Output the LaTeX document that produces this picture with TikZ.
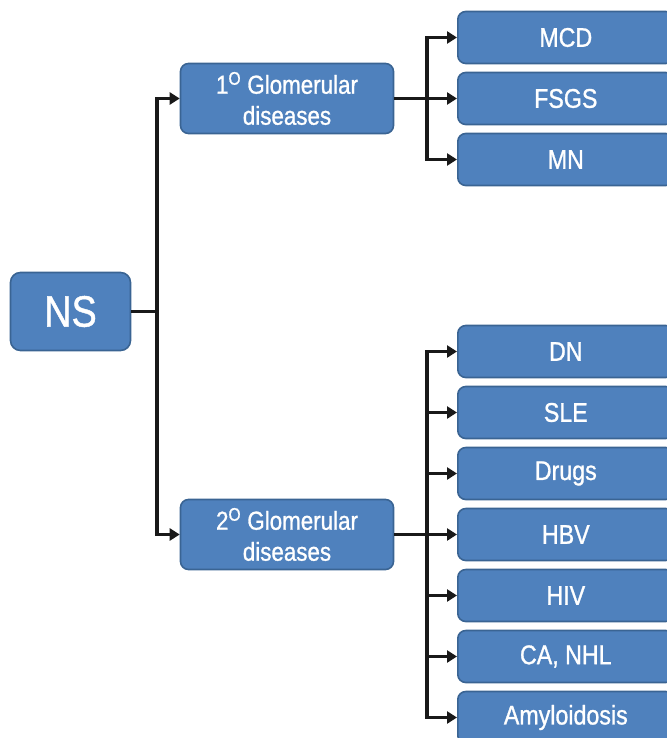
\documentclass[tikz,border=0pt]{standalone}
\usepackage{fontspec}
\setmainfont{Liberation Sans}[FakeStretch=0.86,FakeBold=1]
\usetikzlibrary{arrows.meta,positioning}
\definecolor{boxfill}{HTML}{4F81BD}
\definecolor{boxline}{HTML}{3A6493}

\begin{document}
\begin{tikzpicture}[
   x=1pt,y=-1pt,
   node distance=7.4pt,
   box/.style={draw=boxline,line width=1.6pt,fill=boxfill,text=white,
               rounded corners=8pt,align=center,inner sep=0pt},
   root/.style={box,minimum width=120pt,minimum height=78pt,rounded corners=10pt,
               font=\fontsize{44}{48}\selectfont},
   group/.style={box,minimum width=213pt,minimum height=70pt,
               font=\fontsize{26}{31}\selectfont},
   leaf/.style={box,minimum width=216pt,minimum height=52pt,
               font=\fontsize{27}{30}\selectfont},
   conn/.style={line width=3.8pt,black!90},
   arr/.style={conn,-{Triangle[length=10pt,width=12pt]}}
 ]
  \useasboundingbox (0,0) rectangle (666,738);
  \node[root] (ns) at (70.5,311.5) {NS};
  \node[group] (g1) at (287,98.5) {1\textsuperscript{O} Glomerular\\diseases};
  \node[group] (g2) at (287,534.5) {2\textsuperscript{O} Glomerular\\diseases};
  % primary causes
  \node[leaf,anchor=west] (mcd) at (457,37.5) {MCD};
  \node[leaf,below=of mcd] (fsgs) {FSGS};
  \node[leaf,below=of fsgs] (mn) {MN};
  % secondary causes
  \node[leaf,anchor=west] (dn) at (457,351.5) {DN};
  \node[leaf,below=of dn] (sle) {SLE};
  \node[leaf,below=of sle] (drugs) {Drugs};
  \node[leaf,below=of drugs] (hbv) {HBV};
  \node[leaf,below=of hbv] (hiv) {HIV};
  \node[leaf,below=of hiv] (ca) {CA, NHL};
  \node[leaf,below=of ca] (amy) {Amyloidosis};
  % junction points
  \coordinate[right=26pt of ns] (nsj);
  \coordinate[right=33pt of g1] (g1j);
  \coordinate[right=33pt of g2] (g2j);
  \draw[conn] (ns) -- (nsj);
  \draw[arr] (nsj) |- (g1);
  \draw[arr] (nsj) |- (g2);
  \draw[arr] (g1) -- (fsgs);
  \draw[arr] (g1j) |- (mcd);
  \draw[arr] (g1j) |- (mn);
  \draw[arr] (g2) -- (hbv);
  \foreach \n in {dn,sle,drugs,hiv,ca,amy}
    \draw[arr] (g2j) |- (\n);
 \end{tikzpicture}
\end{document}
